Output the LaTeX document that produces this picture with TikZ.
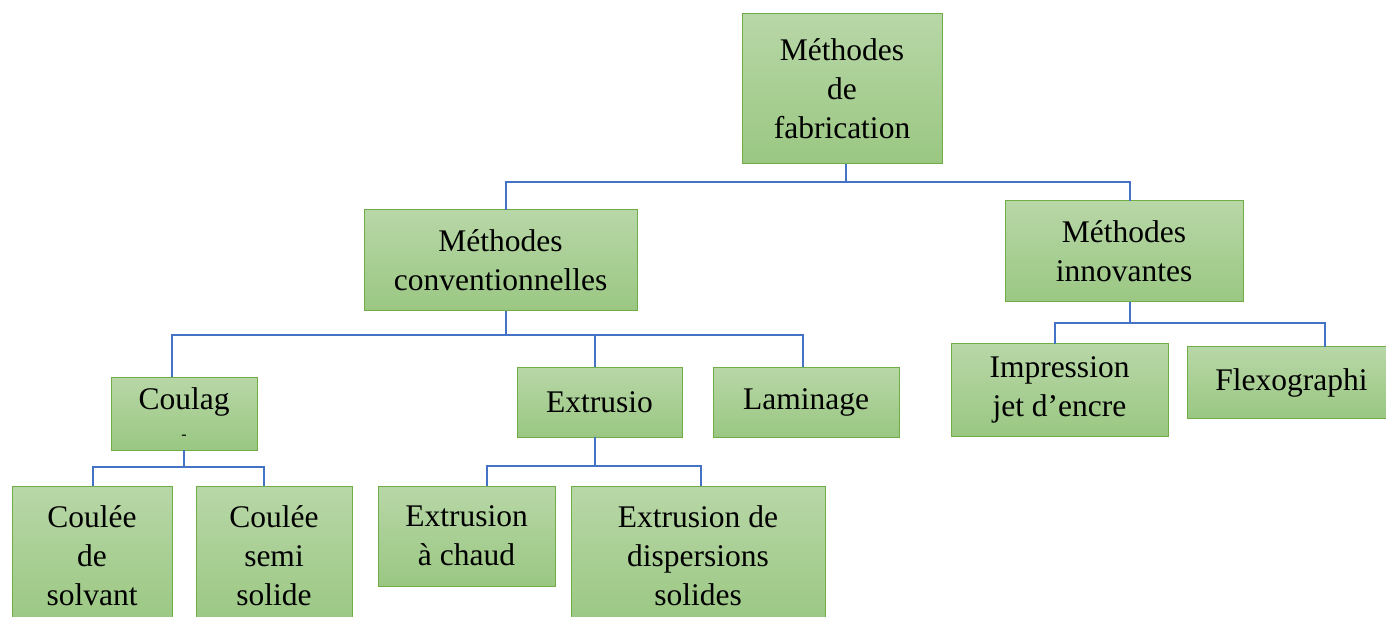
\documentclass[tikz,border=0pt]{standalone}
\usepackage{fontspec}
\setmainfont{Liberation Serif}
\usepackage{tikz}

\definecolor{boxtop}{RGB}{184,215,167}
\definecolor{boxbot}{RGB}{154,199,130}
\definecolor{boxline}{RGB}{112,173,71}
\definecolor{linkblue}{RGB}{68,114,196}

\begin{document}
\begin{tikzpicture}[x=1pt, y=-1pt,
        box/.style={rectangle, draw=boxline, line width=1pt, top color=boxtop, bottom color=boxbot,
                    anchor=north west, align=center, inner sep=0pt, outer sep=0pt,
                    font=\fontsize{31.5}{39}\selectfont},
        link/.style={draw=linkblue, line width=1.1pt}]
        % Define Variables
        \def\busTop{182}
        \def\busConv{335}
        \def\busInno{323}
        \def\busCoul{467}
        \def\busExtr{466}

        \useasboundingbox (0,0) rectangle (1386,617);
        \clip (0,0) rectangle (1386,617);

        % Top level
        \node[box, minimum width=200pt, minimum height=150pt] (fab) at (742,14) {Méthodes\\de\\fabrication};

        % Second level
        \node[box, minimum width=273pt, minimum height=101pt] (conv) at (364,210) {Méthodes\\conventionnelles};
        \node[box, minimum width=238pt, minimum height=101pt] (innov) at (1005,201) {Méthodes\\innovantes};

        % Conventional methods
        \node[box, minimum width=146pt, minimum height=73pt] (coulag) at (111,377) {Coulag\\[-9pt]{\fontsize{16}{16}\selectfont -}};
        \node[box, minimum width=165pt, minimum height=70pt] (extru) at (517,367) {Extrusio};
        \node[box, minimum width=186pt, minimum height=70pt] (lamin) at (713,367) {Laminage};

        % Innovative methods
        \node[box, minimum width=217pt, minimum height=92pt] (impr) at (951,344) {Impression\\jet d’encre};
        \node[box, minimum width=209pt, minimum height=71pt] (flexo) at (1187,347) {Flexographi};

        % Bottom level
        \node[box, minimum width=160pt, minimum height=140pt] (solv) at (12,486) {Coulée\\de\\solvant};
        \node[box, minimum width=156pt, minimum height=140pt] (semi) at (196,486) {Coulée\\semi\\solide};
        \node[box, minimum width=177pt, minimum height=100pt] (chaud) at (378,486) {Extrusion\\à chaud};
        \node[box, minimum width=254pt, minimum height=140pt] (disp) at (571,486) {Extrusion de\\dispersions\\solides};

        % Bus points
        \coordinate (busL) at (506,\busTop);
        \coordinate (busR) at (1130,\busTop);
        \coordinate (cL) at (172,\busConv);
        \coordinate (cM) at (595,\busConv);
        \coordinate (cR) at (803,\busConv);
        \coordinate (iL) at (1055,\busInno);
        \coordinate (iR) at (1325,\busInno);
        \coordinate (sL) at (93,\busCoul);
        \coordinate (sR) at (264,\busCoul);
        \coordinate (eL) at (487,\busExtr);
        \coordinate (eR) at (701,\busExtr);

        % Connectors
        \draw[link] ([xshift=4pt]fab.south) |- (busL) -- (conv.north -| busL);
        \draw[link] (busL) -- (busR) -- (innov.north -| busR);

        \draw[link] (conv.south -| busL) -- (busL |- cL);
        \draw[link] (coulag.north -| cL) |- (cR) -- (lamin.north -| cR);
        \draw[link] (cM) -- (extru.north -| cM);

        \draw[link] (innov.south -| busR) -- (busR |- iL);
        \draw[link] (impr.north -| iL) |- (iR) -- (flexo.north -| iR);

        \draw[link] (coulag.south) -- (coulag.south |- sL);
        \draw[link] (solv.north -| sL) |- (sR) -- (semi.north -| sR);

        \draw[link] (extru.south -| cM) -- (cM |- eL);
        \draw[link] (chaud.north -| eL) |- (eR) -- (disp.north -| eR);

    \end{tikzpicture}
\end{document}
